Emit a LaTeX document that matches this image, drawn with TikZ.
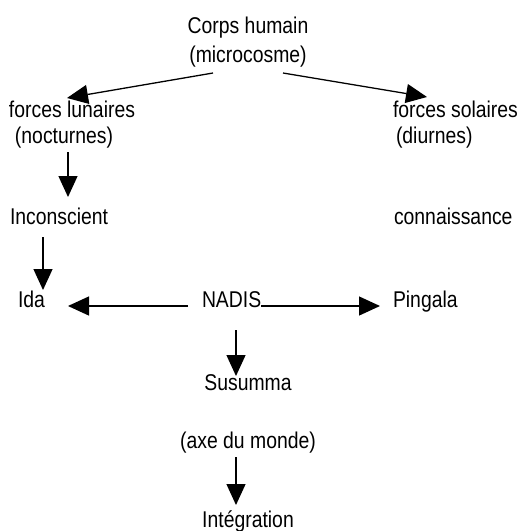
\documentclass[tikz,border=0pt]{standalone}
\usepackage{fontspec}
\setmainfont{Liberation Sans}[FakeStretch=0.85]
\usetikzlibrary{arrows.meta}
\tikzset{
  lbl/.style={inner sep=0pt, outer sep=0pt, font=\fontsize{22.8}{27}\selectfont},
  arr/.style={-{Triangle[length=21pt,width=19pt]}, line width=1.3pt}
}
\begin{document}
\begin{tikzpicture}[x=1pt,y=1pt]
\useasboundingbox (0,0) rectangle (520,-531);
\clip (0,0) rectangle (520,-531);
% nodes
\node[lbl, anchor=base] (corps) at (248,-33) {Corps humain};
\node[lbl, anchor=base] (micro) at (248,-62) {(microcosme)};
\node[lbl, anchor=base west] (lun1) at (9,-117) {forces lunaires};
\node[lbl, anchor=base west] (lun2) at (15,-143) {(nocturnes)};
\node[lbl, anchor=base west] (sol1) at (393,-117) {forces solaires};
\node[lbl, anchor=base west] (sol2) at (396,-143) {(diurnes)};
\node[lbl, anchor=base west] (incon) at (10,-224) {Inconscient};
\node[lbl, anchor=base west] (conn) at (394,-224) {connaissance};
\node[lbl, anchor=base west] (ida) at (18,-307) {Ida};
\node[lbl, anchor=base west] (nadis) at (202,-307) {NADIS};
\node[lbl, anchor=base west] (ping) at (393,-307) {Pingala};
\node[lbl, anchor=base] (sus) at (248,-390) {Susumma};
\node[lbl, anchor=base] (axe) at (248,-448) {(axe du monde)};
\node[lbl, anchor=base] (integ) at (248,-527) {Intégration};
% connectors
\draw[arr] ([shift={(-35,-11)}]micro.base) -- ([shift={(58,19)}]lun1.base west);
\draw[arr] ([shift={(35,-11)}]micro.base) -- ([shift={(34,20)}]sol1.base west);
\draw[arr] ([shift={(53,-9)}]lun2.base west) -- ([shift={(58,27)}]incon.base west);
\draw[arr] ([shift={(33,-13)}]incon.base west) -- ([shift={(25,17)}]ida.base west);
\draw[arr] ([shift={(-14,1)}]nadis.base west) -- ([shift={(50,1)}]ida.base west);
\draw[arr] ([shift={(0,1)}]nadis.base east) -- ([shift={(-13,1)}]ping.base west);
\draw[arr] ([shift={(34,-23)}]nadis.base west) -- ([shift={(-12,14)}]sus.base);
\draw[arr] ([shift={(-12,-9)}]axe.base) -- ([shift={(-12,22)}]integ.base);
\end{tikzpicture}
\end{document}
